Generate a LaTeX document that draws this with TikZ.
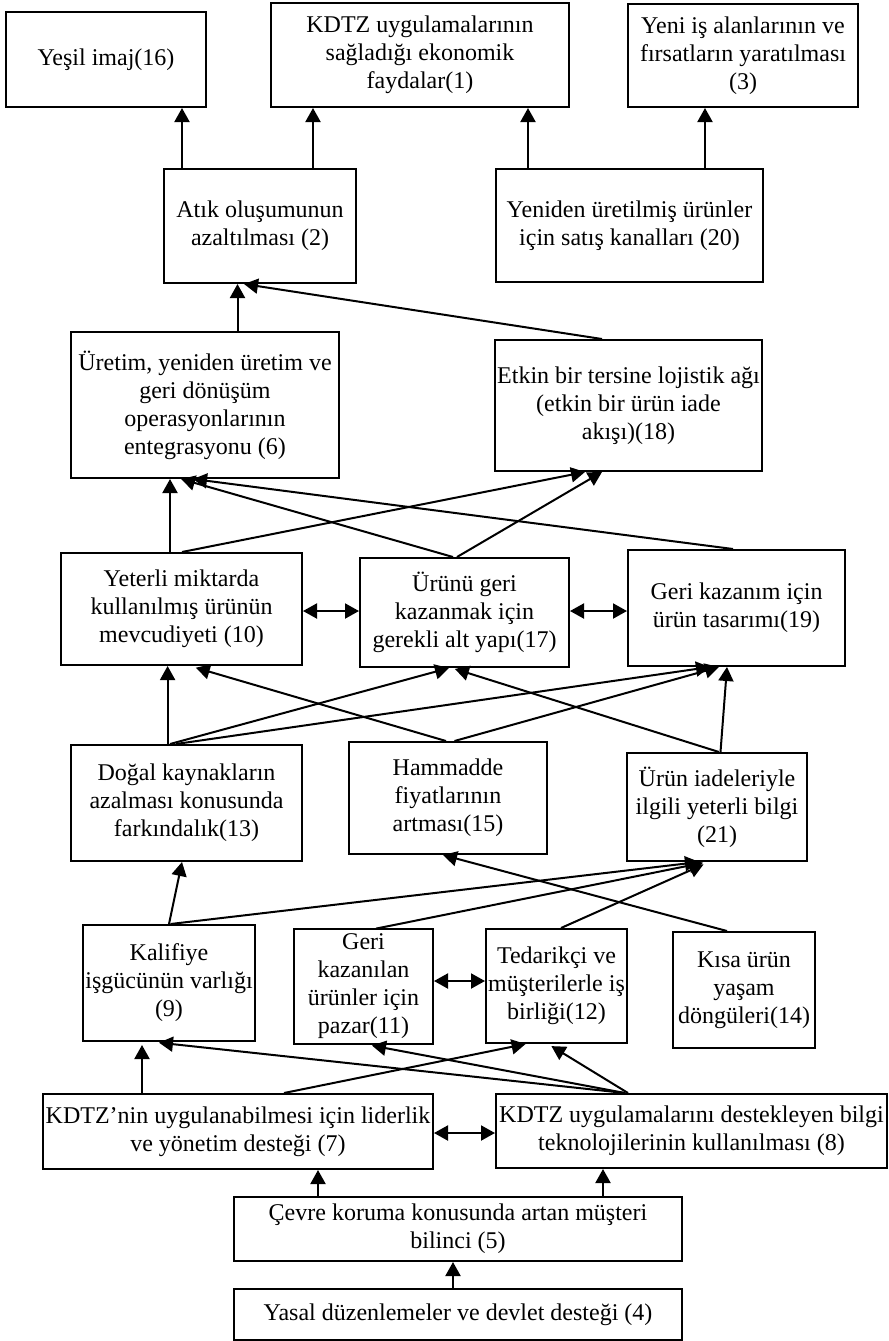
\documentclass[tikz,border=0pt]{standalone}
\usepackage{fontspec}
\setmainfont{Liberation Serif}
\usetikzlibrary{arrows.meta}
\tikzset{
  box/.style={draw, line width=1pt, align=center, inner sep=0pt, font=\fontsize{12}{14}\selectfont},
  arr/.style={line width=1pt, -{Triangle[length=7pt,width=7.5pt]}},
  darr/.style={line width=1pt, {Triangle[length=7pt,width=7.5pt]}-{Triangle[length=7pt,width=7.5pt]}}
}
\begin{document}
\begin{tikzpicture}[x=0.5pt,y=-0.5pt]
\useasboundingbox (0,0) rectangle (889,1341);
% row 1
\node[box, minimum width=100pt, minimum height=47.5pt] (b16) at (106,59.5) {Yeşil imaj(16)};
\node[box, minimum width=149pt, minimum height=52pt] (b1) at (420,55) {KDTZ uygulamalarının\\sağladığı ekonomik\\faydalar(1)};
\node[box, minimum width=115pt, minimum height=51.5pt] (b3) at (743,55.5) {Yeni iş alanlarının ve\\fırsatların yaratılması\\(3)};
% row 2
\node[box, minimum width=96pt, minimum height=57pt] (b2) at (260,226) {Atık oluşumunun\\azaltılması (2)};
\node[box, minimum width=133.5pt, minimum height=56.5pt] (b20) at (629.5,225.5) {Yeniden üretilmiş ürünler\\için satış kanalları (20)};
% row 3
\node[box, minimum width=134pt, minimum height=73pt] (b6) at (205,405) {Üretim, yeniden üretim ve\\geri dönüşüm\\operasyonlarının\\entegrasyonu (6)};
\node[box, minimum width=133.5pt, minimum height=65.5pt] (b18) at (628.5,405.5) {Etkin bir tersine lojistik ağı\\(etkin bir ürün iade\\akışı)(18)};
% row 4
\node[box, minimum width=120.5pt, minimum height=56pt] (b10) at (181.5,609) {Yeterli miktarda\\kullanılmış ürünün\\mevcudiyeti (10)};
\node[box, minimum width=104.5pt, minimum height=54.5pt] (b17) at (464.5,612.5) {Ürünü geri\\kazanmak için\\gerekli alt yapı(17)};
\node[box, minimum width=108.5pt, minimum height=58pt] (b19) at (736.5,608) {Geri kazanım için\\ürün tasarımı(19)};
% row 5
\node[box, minimum width=115.5pt, minimum height=58pt] (b13) at (186.5,803) {Doğal kaynakların\\azalması konusunda\\farkındalık(13)};
\node[box, minimum width=99pt, minimum height=56pt] (b15) at (448,798) {Hammadde\\fiyatlarının\\artması(15)};
\node[box, minimum width=90pt, minimum height=54pt] (b21) at (717,807) {Ürün iadeleriyle\\ilgili yeterli bilgi\\(21)};
% row 6
\node[box, minimum width=86pt, minimum height=58pt] (b9) at (169,983) {Kalifiye\\işgücünün varlığı\\(9)};
\node[box, minimum width=69.5pt, minimum height=57.5pt] (b11) at (363.5,986.5) {Geri\\kazanılan\\ürünler için\\pazar(11)};
\node[box, minimum width=70.5pt, minimum height=57pt] (b12) at (556.5,986) {Tedarikçi ve\\müşterilerle iş\\birliği(12)};
\node[box, minimum width=71pt, minimum height=58pt] (b14) at (744,990) {Kısa ürün\\yaşam\\döngüleri(14)};
% row 7
\node[box, minimum width=195pt, minimum height=37.5pt] (b7) at (238,1131.5) {KDTZ’nin uygulanabilmesi için liderlik\\ve yönetim desteği (7)};
\node[box, minimum width=195.5pt, minimum height=37pt] (b8) at (691.5,1131) {KDTZ uygulamalarını destekleyen bilgi\\teknolojilerinin kullanılması (8)};
% rows 8-9
\node[box, minimum width=224pt, minimum height=32pt] (b5) at (458,1229) {Çevre koruma konusunda artan müşteri\\bilinci (5)};
\node[box, minimum width=224pt, minimum height=25.5pt] (b4) at (458,1314.5) {Yasal düzenlemeler ve devlet desteği (4)};
% connectors top
\draw[arr] (b2.north -| 182,0) -- (b16.south -| 182,0);
\draw[arr] (b2.north -| 313,0) -- (b1.south -| 313,0);
\draw[arr] (b20.north -| 528,0) -- (b1.south -| 528,0);
\draw[arr] (b20.north -| 705,0) -- (b3.south -| 705,0);
\draw[arr] (b6.north -| 237.5,0) -- (b2.south -| 237.5,0);
\draw[arr] (b18.north -| 602,0) -- (b2.south -| 244,0);
% into 6 and 18
\draw[arr] (b10.north -| 170,0) -- (b6.south -| 170,0);
\draw[arr] (b17.north -| 453,0) -- (b6.south -| 181,0);
\draw[arr] (b19.north -| 733,0) -- (b6.south -| 193,0);
\draw[arr] (b10.north -| 182,0) -- (b18.south -| 585,0);
\draw[arr] (b17.north -| 457,0) -- (b18.south -| 602,0);
\draw[darr] (b10.east |- 0,611) -- (b17.west |- 0,611);
\draw[darr] (b17.east |- 0,611) -- (b19.west |- 0,611);
% into row 4
\draw[arr] (b13.north -| 167.6,0) -- (b10.south -| 167.6,0);
\draw[arr] (b13.north -| 170,0) -- (b17.south -| 449,0);
\draw[arr] (b13.north -| 176,0) -- (b19.south -| 710,0);
\draw[arr, shorten >=3pt] (b15.north -| 446,0) -- (b10.south -| 190,0);
\draw[arr] (b15.north -| 454.5,0) -- (b19.south -| 719,0);
\draw[arr, shorten >=1.5pt] (b21.north -| 719,0) -- (b17.south -| 452,0);
\draw[arr] (b21.north -| 720.5,0) -- (b19.south -| 727,0);
% into row 5
\draw[arr] (b9.north -| 169,0) -- (b13.south -| 182,0);
\draw[arr] (b9.north -| 170.5,0) -- (b21.south -| 699,0);
\draw[arr, shorten <=-1.5pt, shorten >=2pt] (b11.north -| 379,0) -- (b21.south -| 707,0);
\draw[arr, shorten >=3pt] (b12.north -| 561,0) -- (b21.south -| 709,0);
\draw[arr] (b14.north -| 727,0) -- (b15.south -| 443,0);
\draw[darr] (b11.east |- 0,981) -- (b12.west |- 0,981);
% into row 6
\draw[arr, shorten >=1.5pt] (b7.north -| 142,0) -- (b9.south -| 142,0);
\draw[arr] (b7.north -| 284,0) -- (b12.south -| 525.6,0);
\draw[arr, shorten >=3pt] (b8.north -| 625,0) -- (b9.south -| 153,0);
\draw[arr, shorten >=1.5pt] (b8.north -| 625,0) -- (b11.south -| 369,0);
\draw[arr, shorten >=2pt] (b8.north -| 628,0) -- (b12.south -| 548,0);
\draw[darr] (b7.east |- 0,1133) -- (b8.west |- 0,1133);
% bottom
\draw[arr] (b5.north -| 318,0) -- (b7.south -| 318,0);
\draw[arr] (b5.north -| 603,0) -- (b8.south -| 603,0);
\draw[arr] (b4.north -| 453,0) -- (b5.south -| 453,0);
\end{tikzpicture}
\end{document}
